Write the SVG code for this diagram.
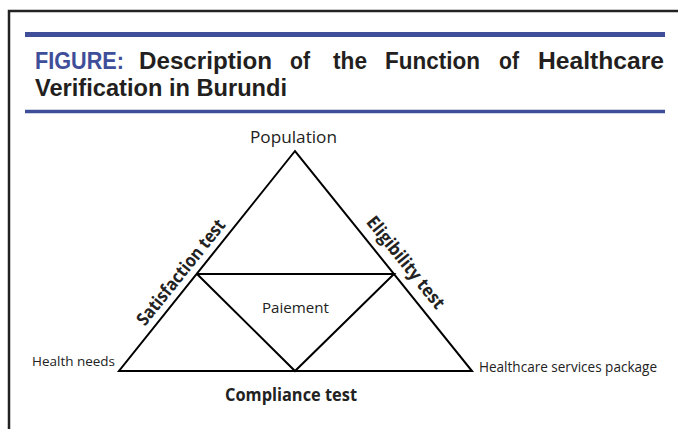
<svg xmlns="http://www.w3.org/2000/svg" width="678" height="429" viewBox="0 0 678 429">
<style>
.frame{stroke:#222;stroke-width:2.5;fill:none}
.rule{stroke:#3f4e98;fill:none}
.title{font-family:"Liberation Sans",Arial,sans-serif;font-weight:bold;font-size:23px;fill:#231f20}
.title .fig{fill:#3f4e98}
.edge{stroke:#000;stroke-width:2;fill:none;stroke-linejoin:miter}
.lbl{font-family:"Open Sans","Liberation Sans",sans-serif;fill:#222}
.bold{font-weight:bold}
</style>
<rect width="678" height="429" fill="#fff"/>
<path class="frame" d="M9,429 V11 H678"/>
<line class="rule" x1="25" y1="34.5" x2="665" y2="34.5" stroke-width="5"/>
<line class="rule" x1="25" y1="111.5" x2="665" y2="111.5" stroke-width="3.5"/>
<g class="title">
<text x="35" y="69" class="fig" textLength="89" lengthAdjust="spacingAndGlyphs">FIGURE:</text>
<text x="139" y="69" textLength="133" lengthAdjust="spacingAndGlyphs">Description</text>
<text x="290" y="69" textLength="20" lengthAdjust="spacingAndGlyphs">of</text>
<text x="333" y="69" textLength="34" lengthAdjust="spacingAndGlyphs">the</text>
<text x="385" y="69" textLength="95" lengthAdjust="spacingAndGlyphs">Function</text>
<text x="499" y="69" textLength="20" lengthAdjust="spacingAndGlyphs">of</text>
<text x="538" y="69" textLength="126" lengthAdjust="spacingAndGlyphs">Healthcare</text>
<text x="35" y="95.5" textLength="252" lengthAdjust="spacingAndGlyphs">Verification in Burundi</text>
</g>
<g id="connectors">
<polygon class="edge" points="295,151 119,371 472,371"/>
<polyline class="edge" points="197,274 394,274 295,371 197,274"/>
</g>
<g id="population"><text class="lbl" x="250" y="143" font-size="17" textLength="87" lengthAdjust="spacingAndGlyphs">Population</text></g>
<g id="paiement"><text class="lbl" x="262" y="313" font-size="15" textLength="67" lengthAdjust="spacingAndGlyphs">Paiement</text></g>
<g id="health-needs"><text class="lbl" x="32" y="366" font-size="13.5" textLength="83" lengthAdjust="spacingAndGlyphs">Health needs</text></g>
<g id="healthcare-package"><text class="lbl" x="479" y="372" font-size="14" textLength="178" lengthAdjust="spacingAndGlyphs">Healthcare services package</text></g>
<g id="compliance-test"><text class="lbl bold" x="225" y="401" font-size="17" textLength="132" lengthAdjust="spacingAndGlyphs">Compliance test</text></g>
<g id="satisfaction-test"><text class="lbl bold" transform="translate(192,281) rotate(-51.3)" x="0" y="-8" text-anchor="middle" font-size="18" textLength="130" lengthAdjust="spacingAndGlyphs">Satisfaction test</text></g>
<g id="eligibility-test"><text class="lbl bold" transform="translate(394,272) rotate(51.2)" x="0" y="-9" text-anchor="middle" font-size="18" textLength="113" lengthAdjust="spacingAndGlyphs">Eligibility test</text></g>
</svg>
